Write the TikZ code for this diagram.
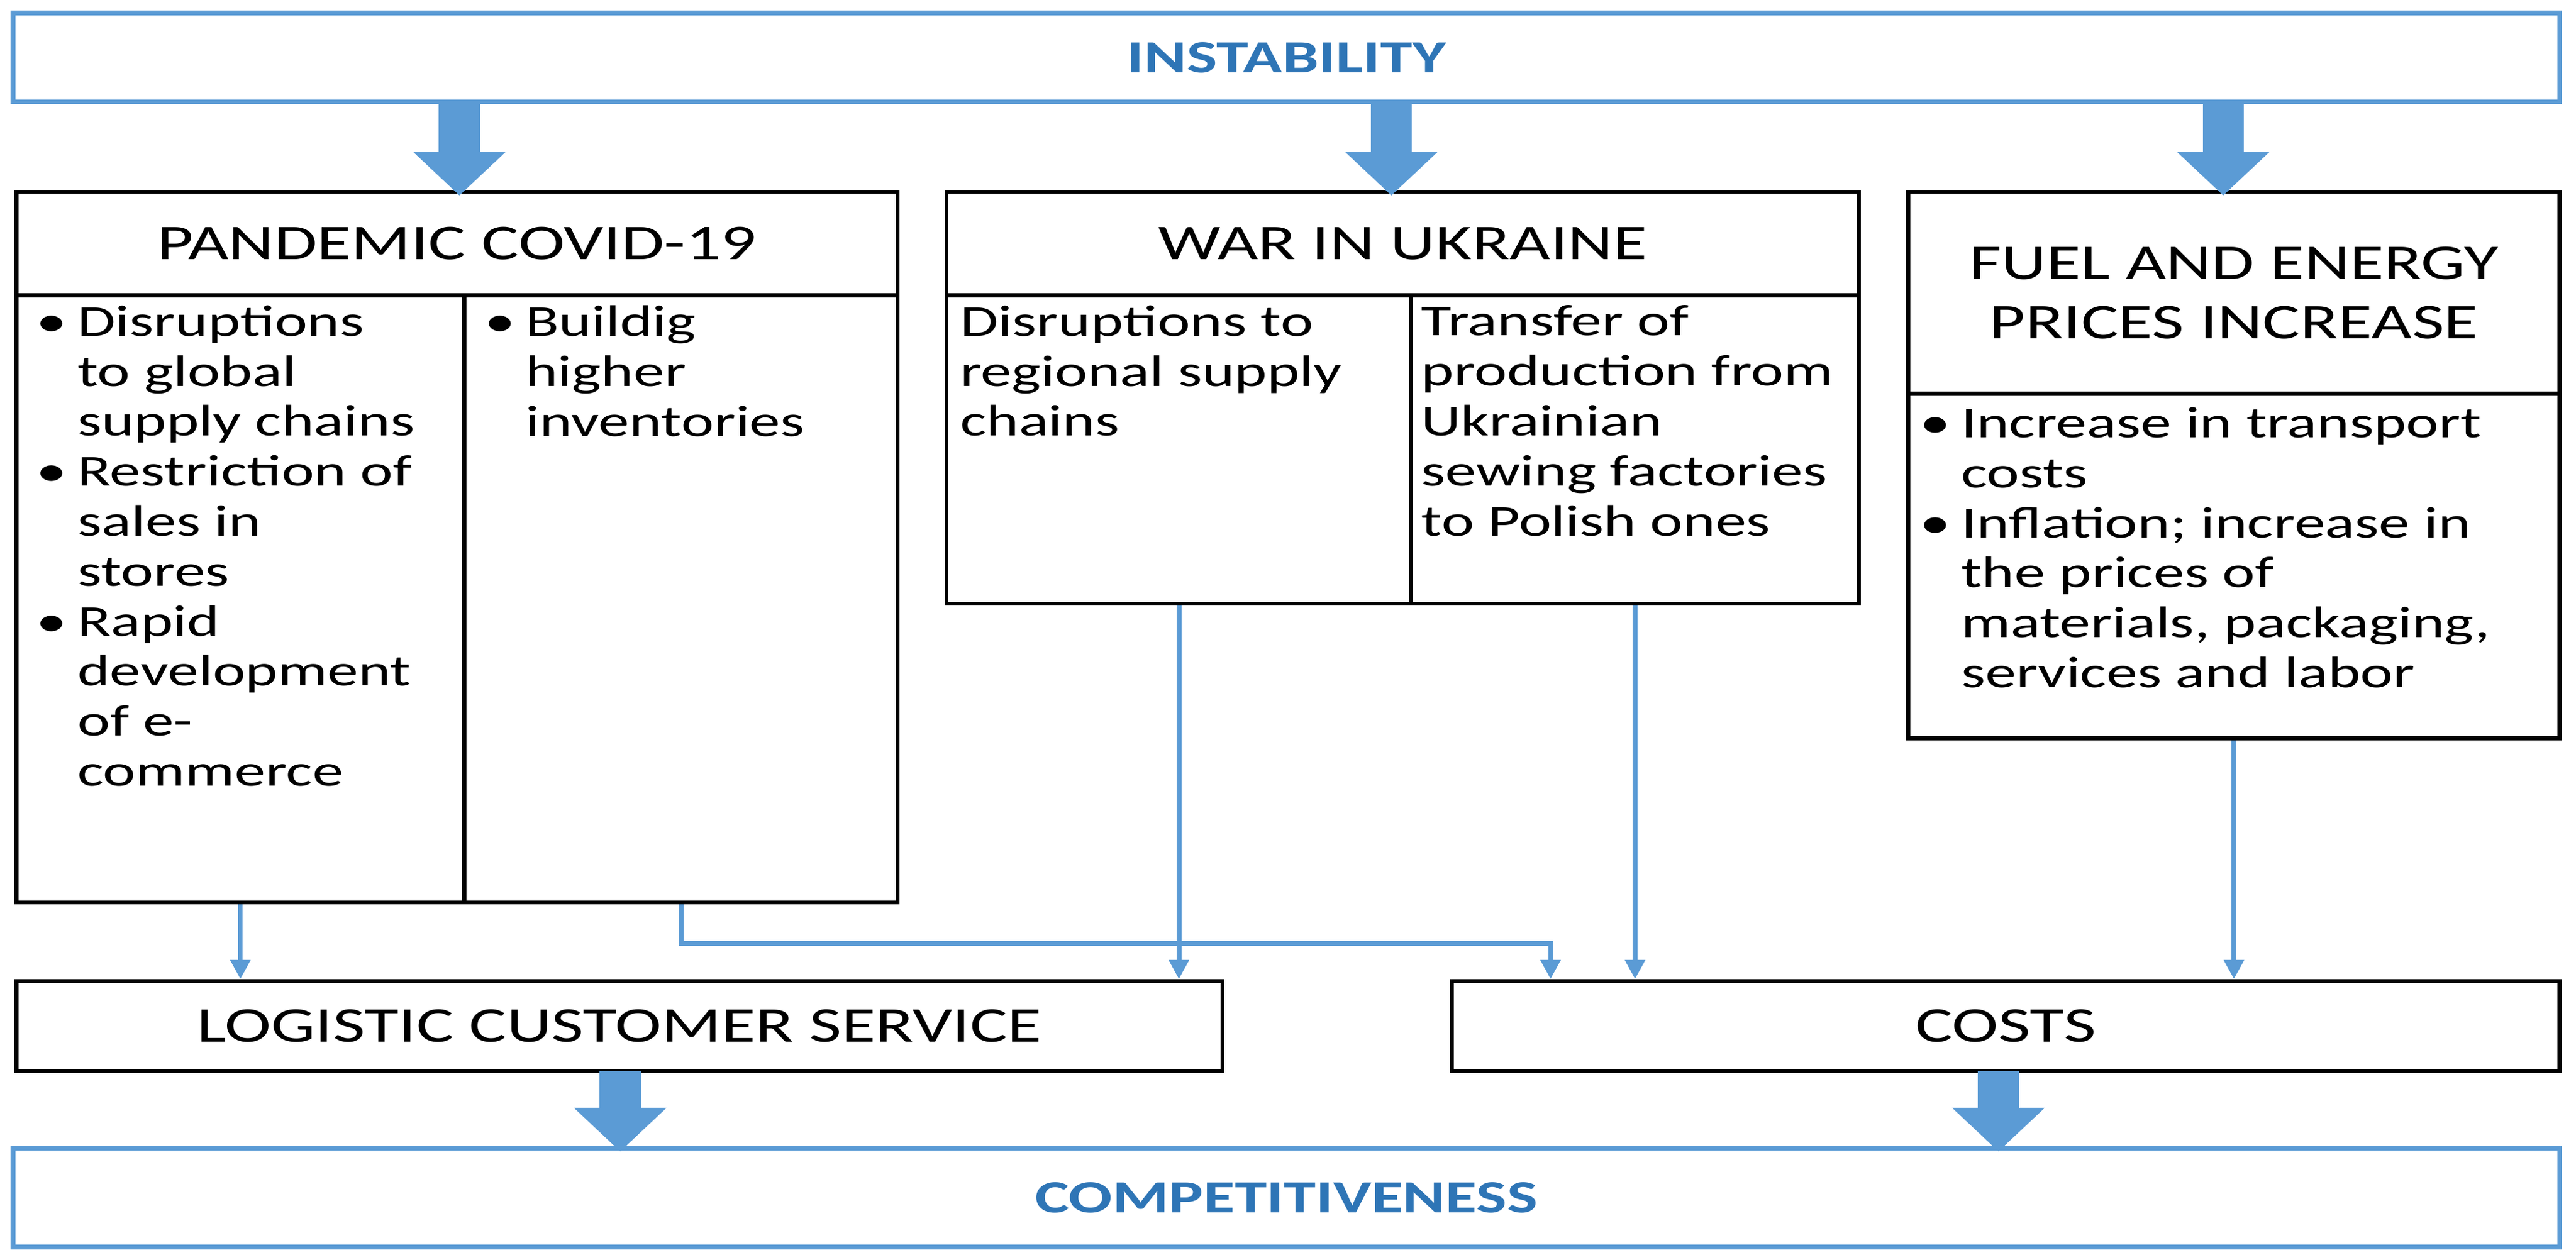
\documentclass[tikz,border=0pt]{standalone}
\usepackage{fontspec}
\setmainfont{Carlito}[FakeStretch=1.4]
\usetikzlibrary{arrows.meta}
\definecolor{bleu}{RGB}{91,155,213}
\definecolor{bleutxt}{RGB}{46,117,182}
\newcommand{\bl}{\makebox[0.75cm][l]{\textbullet}}
\newcommand{\ind}{\hspace*{0.75cm}}
\begin{document}
\begin{tikzpicture}[x=0.03cm,y=-0.03cm]
% Styles
\tikzset{
  cadre/.style={draw=black,line width=2pt,inner sep=0pt,fill=white},
  cadrebleu/.style={draw=bleu,line width=2.5pt,inner sep=0pt,
    font=\fontsize{24}{28}\selectfont\bfseries,text=bleutxt},
  titre/.style={cadre,font=\fontsize{26}{31}\selectfont,align=center},
  corps/.style={font=\fontsize{23}{26}\selectfont,anchor=north west,align=left,inner sep=0pt},
  grosse/.style={-{Triangle[width=1.65cm,length=0.8cm]},bleu,line width=0.75cm,shorten >=-0.1cm},
  fine/.style={-{Triangle[width=0.35cm,length=0.35cm]},bleu,line width=2.5pt},
}
\useasboundingbox (0,0) rectangle (1570,768);
% Instabilite
\node[cadrebleu,minimum width=1552*0.03cm,minimum height=54*0.03cm] (inst) at (784,35) {INSTABILITY};
% Pandemie
\node[titre,minimum width=537*0.03cm,minimum height=63*0.03cm] (pandT) at (278.5,148.5) {PANDEMIC COVID-19};
\node[cadre,minimum width=273*0.03cm,minimum height=370*0.03cm] (pandL) at (146.5,365) {};
\node[cadre,minimum width=264*0.03cm,minimum height=370*0.03cm] (pandR) at (415,365) {};
\node[corps] (pandLt) at (22,186)
  {\bl Disruptions\\ \ind to global\\ \ind supply chains\\
   \bl Restriction of\\ \ind sales in\\ \ind stores\\
   \bl Rapid\\ \ind development\\ \ind of e-\\ \ind commerce};
\node[corps] (pandRt) at (295,186)
  {\bl Buildig\\ \ind higher\\ \ind inventories};
% Guerre
\node[titre,minimum width=556*0.03cm,minimum height=63*0.03cm] (warT) at (855,148.5) {WAR IN UKRAINE};
\node[cadre,minimum width=283*0.03cm,minimum height=188*0.03cm] (warL) at (718.5,274) {};
\node[cadre,minimum width=273*0.03cm,minimum height=188*0.03cm] (warR) at (996.5,274) {};
\node[corps] (warLt) at (585,186)
  {Disruptions to\\regional supply\\chains};
\node[corps] (warRt) at (866,186)
  {Transfer of\\production from\\Ukrainian\\sewing factories\\to Polish ones};
% Energie
\node[titre,minimum width=397*0.03cm,minimum height=123*0.03cm] (fuelT) at (1361.5,178.5) {FUEL AND ENERGY\\PRICES INCREASE};
\node[cadre,minimum width=397*0.03cm,minimum height=210*0.03cm] (fuelB) at (1361.5,345) {};
\node[corps] (fuelt) at (1170,248)
  {\bl Increase in transport\\ \ind costs\\
   \bl Inflation; increase in\\ \ind the prices of\\ \ind materials, packaging,\\ \ind services and labor};
% Service et couts
\node[titre,minimum width=735*0.03cm,minimum height=55*0.03cm] (lcs) at (377.5,625.5) {LOGISTIC CUSTOMER SERVICE};
\node[titre,minimum width=675*0.03cm,minimum height=55*0.03cm] (costs) at (1222.5,625.5) {COSTS};
\node[cadrebleu,minimum width=1552*0.03cm,minimum height=60*0.03cm] (comp) at (784,730) {COMPETITIVENESS};
% Grosses fleches
\coordinate (a1) at (280,62); \coordinate (a2) at (848,62); \coordinate (a3) at (1355,62);
\draw[grosse] (a1) -- (a1 |- pandT.north);
\draw[grosse] (a2) -- (a2 |- warT.north);
\draw[grosse] (a3) -- (a3 |- fuelT.north);
\coordinate (b1) at (378,653); \coordinate (b2) at (1218,653);
\draw[grosse] (b1) -- (b1 |- comp.north);
\draw[grosse] (b2) -- (b2 |- comp.north);
% Fines fleches
\coordinate (coude) at (945,575);
\draw[fine] (pandL.south) -- (pandL.south |- lcs.north);
\draw[fine] (pandR.south) |- (coude) -- (coude |- costs.north);
\draw[fine] (warL.south) -- (warL.south |- lcs.north);
\draw[fine] (warR.south) -- (warR.south |- costs.north);
\draw[fine] (fuelB.south) -- (fuelB.south |- costs.north);
\end{tikzpicture}
\end{document}
